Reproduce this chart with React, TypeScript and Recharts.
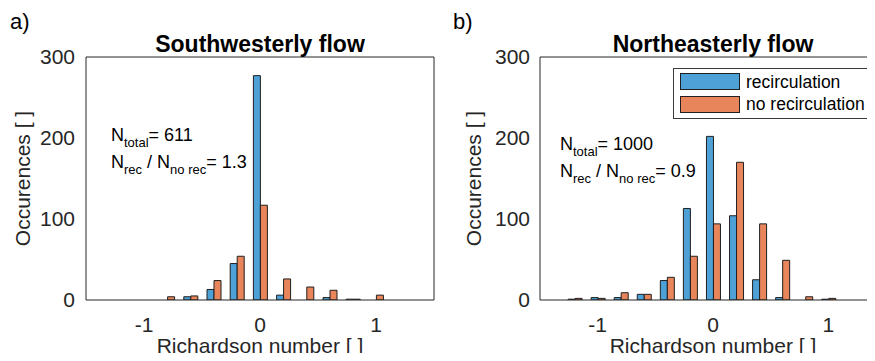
import React from "react";
import { BarChart, Bar, XAxis, YAxis } from "recharts";

// histogram bin centres (Richardson number)
const bins = [-1.2, -1.0, -0.8, -0.6, -0.4, -0.2, 0, 0.2, 0.4, 0.6, 0.8, 1.0];

// a) southwesterly flow
const swRec = [0, 0, 0, 4, 13, 45, 277, 6, 0, 3, 1, 0];
const swNoRec = [0, 0, 4, 5, 24, 54, 117, 26, 16, 12, 1, 6];

// b) northeasterly flow
const neRec = [1, 3, 3, 7, 24, 113, 202, 104, 25, 3, 0, 1];
const neNoRec = [2, 2, 9, 7, 28, 54, 94, 170, 94, 49, 4, 2];

const xTicks = [-1, 0, 1];
const yTicks = [0, 100, 200, 300];

const BLUE = "#4ea1d7";
const ORANGE = "#e8855b";
const EDGE = "#1f1f1f";
const INK = "#262626";
const FONT = '"Liberation Sans", Arial, Helvetica, sans-serif';

function rows(rec: number[], norec: number[]) {
  return bins.map((ri, i) => ({ ri, rec: rec[i], norec: norec[i] }));
}

function YLabel(props: any) {
  const vb = props.viewBox || { x: 0, y: 0, width: 0, height: 0 };
  const cx = vb.x + props.shift;
  const cy = vb.y + vb.height / 2;
  return (
    <text
      x={cx}
      y={cy}
      transform={`rotate(-90 ${cx} ${cy})`}
      textAnchor="middle"
      dominantBaseline="central"
      fontSize={21}
      fill={INK}
    >
      Occurences [ ]
    </text>
  );
}

function XLabel(props: any) {
  const vb = props.viewBox || { x: 0, y: 0, width: 0, height: 0 };
  return (
    <text x={vb.x + vb.width / 2} y={vb.y + 53} textAnchor="middle" fontSize={21} fill={INK}>
      Richardson number [ ]
    </text>
  );
}

function Panel({
  rec,
  norec,
  width,
  yAxisWidth,
  tickGap,
  labelShift,
}: {
  rec: number[];
  norec: number[];
  width: number;
  yAxisWidth: number;
  tickGap: number;
  labelShift: number;
}) {
  const xDom: [number, number] = [-1.5, 1.5];
  const yDom: [number, number] = [0, 300];
  return (
    <BarChart
      width={width}
      height={361}
      data={rows(rec, norec)}
      margin={{ top: 57, right: 6, left: 0, bottom: 0 }}
      barGap={0}
      barSize={7}
    >
      <XAxis
        dataKey="ri"
        type="number"
        domain={xDom}
        ticks={xTicks}
        allowDataOverflow
        height={61}
        tickLine={false}
        tickSize={0}
        tickMargin={17}
        axisLine={{ stroke: INK }}
        tick={{ fontSize: 21, fill: INK }}
        label={<XLabel />}
      />
      <XAxis
        xAxisId="bm"
        dataKey="ri"
        type="number"
        domain={xDom}
        ticks={xTicks}
        allowDataOverflow
        orientation="bottom"
        mirror
        tick={false}
        tickSize={4}
        axisLine={false}
        tickLine={{ stroke: INK }}
      />
      <XAxis
        xAxisId="tm"
        dataKey="ri"
        type="number"
        domain={xDom}
        ticks={xTicks}
        allowDataOverflow
        orientation="top"
        mirror
        tick={false}
        tickSize={4}
        axisLine={{ stroke: INK }}
        tickLine={{ stroke: INK }}
      />
      <YAxis
        type="number"
        domain={yDom}
        ticks={yTicks}
        allowDataOverflow
        width={yAxisWidth}
        tickLine={false}
        tickSize={0}
        tickMargin={tickGap}
        axisLine={{ stroke: INK }}
        tick={{ fontSize: 21, fill: INK }}
        label={<YLabel shift={labelShift} />}
      />
      <YAxis
        yAxisId="lm"
        type="number"
        domain={yDom}
        ticks={yTicks}
        allowDataOverflow
        orientation="left"
        mirror
        tick={false}
        tickSize={4}
        axisLine={false}
        tickLine={{ stroke: INK }}
      />
      <YAxis
        yAxisId="rm"
        type="number"
        domain={yDom}
        ticks={yTicks}
        allowDataOverflow
        orientation="right"
        mirror
        tick={false}
        tickSize={4}
        axisLine={{ stroke: INK }}
        tickLine={{ stroke: INK }}
      />
      <Bar dataKey="rec" name="recirculation" fill={BLUE} stroke={EDGE} strokeWidth={1} isAnimationActive={false} />
      <Bar dataKey="norec" name="no recirculation" fill={ORANGE} stroke={EDGE} strokeWidth={1} isAnimationActive={false} />
    </BarChart>
  );
}

function Stats({ x, y, total, ratio }: { x: number; y: number; total: string; ratio: string }) {
  return (
    <text x={x} y={y} fontSize={18} fill="#000">
      <tspan>N</tspan>
      <tspan fontSize={13} dy={6}>total</tspan>
      <tspan dy={-6}>{"= " + total}</tspan>
      <tspan x={x} y={y + 27}>N</tspan>
      <tspan fontSize={13} dy={6}>rec</tspan>
      <tspan dy={-6}>{" / N"}</tspan>
      <tspan fontSize={13} dy={6}>no rec</tspan>
      <tspan dy={-6}>{"= " + ratio}</tspan>
    </text>
  );
}

export default function App() {
  return (
    <div
      style={{
        position: "relative",
        width: 875,
        height: 361,
        margin: -8,
        overflow: "hidden",
        background: "#fff",
        fontFamily: FONT,
      }}
    >
      <div style={{ position: "absolute", left: 0, top: 0 }}>
        <Panel rec={swRec} norec={swNoRec} width={440} yAxisWidth={86} tickGap={11} labelShift={22} />
      </div>
      <div style={{ position: "absolute", left: 440, top: 0 }}>
        <Panel rec={neRec} norec={neNoRec} width={452} yAxisWidth={100} tickGap={10} labelShift={33} />
      </div>
      <svg
        width={875}
        height={361}
        style={{ position: "absolute", left: 0, top: 0, pointerEvents: "none", fontFamily: FONT }}
      >
        <text x={10} y={29} fontSize={22} fill="#000">a)</text>
        <text x={453} y={29} fontSize={22} fill="#000">b)</text>
        <text x={260} y={52} fontSize={23} fontWeight="bold" textAnchor="middle" fill="#000">
          Southwesterly flow
        </text>
        <text x={713} y={52} fontSize={23} fontWeight="bold" textAnchor="middle" fill="#000">
          Northeasterly flow
        </text>
        <Stats x={111} y={141} total="611" ratio="1.3" />
        <Stats x={560} y={150} total="1000" ratio="0.9" />
        <rect x={673.5} y={68.5} width={200} height={50} fill="#fff" stroke="#3a3a3a" />
        <rect x={680.5} y={73.5} width={59} height={16} fill={BLUE} stroke={EDGE} />
        <rect x={680.5} y={96.5} width={59} height={16} fill={ORANGE} stroke={EDGE} />
        <text x={746} y={88} fontSize={17.5} fill="#000">recirculation</text>
        <text x={746} y={110} fontSize={17.5} fill="#000">no recirculation</text>
      </svg>
    </div>
  );
}
